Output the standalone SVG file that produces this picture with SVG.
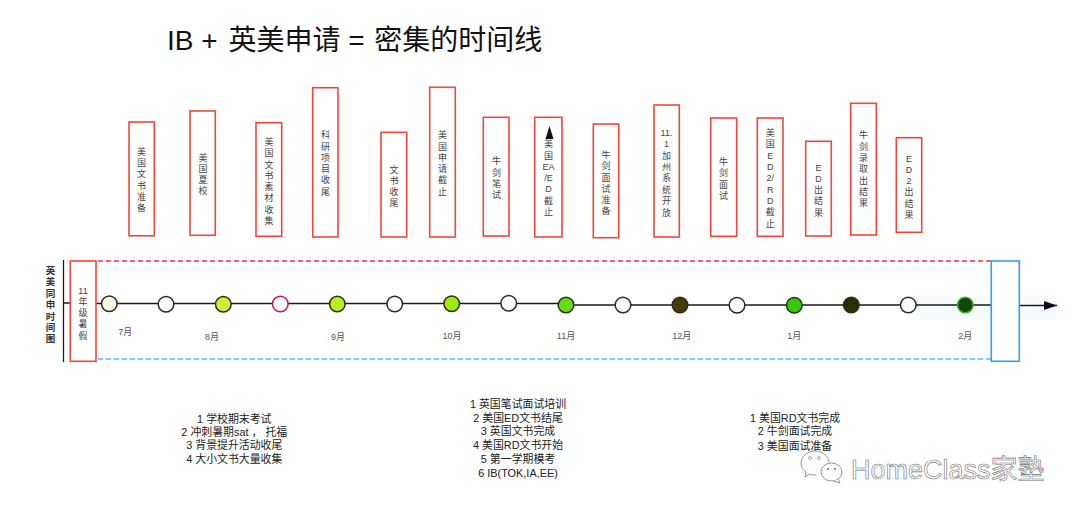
<svg xmlns="http://www.w3.org/2000/svg" width="1080" height="516" viewBox="0 0 1080 516">
<style>
text{font-family:"Liberation Sans","Noto Sans CJK SC",sans-serif;text-anchor:middle}
.box{fill:#fff;stroke:#f0473c;stroke-width:1.6}
.bl{fill:#fff;stroke:#3a9bee;stroke-width:1.6}
.t{font-size:9px;fill:#444}
.m{font-size:9px;fill:#555}
.b{font-size:10.9px;fill:#222}
.n{stroke:#2a2a2a;stroke-width:1.5}
.ln{stroke:#1a1a1a;stroke-width:1.3;fill:none}
</style>
<defs><marker id="arr" markerWidth="14" markerHeight="10" refX="13" refY="4.5" orient="auto" markerUnits="userSpaceOnUse"><path d="M0 0L13 4.500L0 9z" fill="#0a1020"/></marker></defs>
<rect x="917" y="297" width="140" height="22" fill="#f6fcfe"/>
<text id="title" x="167" y="50" style="font-size:28px;fill:#111;text-anchor:start">IB + <tspan dx="3">英美申请</tspan> = <tspan dx="2">密集的时间线</tspan></text>
<g id="connectors">
<path class="ln" d="M63.500 260V362"/>
<path class="ln" d="M63.500 303H70M96 303.500H566M566 305H1019"/>
<path class="ln" d="M1019 305.500H1057" marker-end="url(#arr)"/>
<path d="M98 261H991" stroke="#f2303c" stroke-width="1.300" stroke-dasharray="5 3" fill="none"/>
<path d="M98 359H991" stroke="#55b8fa" stroke-width="1.300" stroke-dasharray="5 3" fill="none"/>
</g>
<text id="axis-label" y="274" style="font-size:9.500px;font-weight:bold;fill:#333"><tspan x="50.500">英</tspan><tspan x="50.500" dy="11.400">美</tspan><tspan x="50.500" dy="11.400">同</tspan><tspan x="50.500" dy="11.400">申</tspan><tspan x="50.500" dy="11.400">时</tspan><tspan x="50.500" dy="11.400">间</tspan><tspan x="50.500" dy="11.400">图</tspan></text>
<g id="box-summer"><rect class="box" x="70.300" y="261" width="25.700" height="100.300"/><text class="t" y="293.500"><tspan x="83">11</tspan><tspan x="83" dy="11.300">年</tspan><tspan x="83" dy="11.300">级</tspan><tspan x="83" dy="11.300">暑</tspan><tspan x="83" dy="11.300">假</tspan></text></g>
<g id="box-end"><rect class="bl" x="991.300" y="261" width="28" height="100.300"/></g>
<g id="e1"><rect class="box" x="129" y="122" width="25.300" height="113.800"/><text class="t" y="154.800"><tspan x="141.500">美</tspan><tspan x="141.500" dy="11.300">国</tspan><tspan x="141.500" dy="11.300">文</tspan><tspan x="141.500" dy="11.300">书</tspan><tspan x="141.500" dy="11.300">准</tspan><tspan x="141.500" dy="11.300">备</tspan></text></g>
<g id="e2"><rect class="box" x="190" y="111" width="25.300" height="124.300"/><text class="t" y="160.500"><tspan x="203">美</tspan><tspan x="203" dy="11.300">国</tspan><tspan x="203" dy="11.300">夏</tspan><tspan x="203" dy="11.300">校</tspan></text></g>
<g id="e3"><rect class="box" x="256" y="122.700" width="25.700" height="113.600"/><text class="t" y="144.900"><tspan x="269">美</tspan><tspan x="269" dy="11.300">国</tspan><tspan x="269" dy="11.300">文</tspan><tspan x="269" dy="11.300">书</tspan><tspan x="269" dy="11.300">素</tspan><tspan x="269" dy="11.300">材</tspan><tspan x="269" dy="11.300">收</tspan><tspan x="269" dy="11.300">集</tspan></text></g>
<g id="e4"><rect class="box" x="312.700" y="87.700" width="25.300" height="149.300"/><text class="t" y="138.200"><tspan x="325.500">科</tspan><tspan x="325.500" dy="11.300">研</tspan><tspan x="325.500" dy="11.300">项</tspan><tspan x="325.500" dy="11.300">目</tspan><tspan x="325.500" dy="11.300">收</tspan><tspan x="325.500" dy="11.300">尾</tspan></text></g>
<g id="e5"><rect class="box" x="381" y="132.300" width="25.700" height="104.700"/><text class="t" y="172.500"><tspan x="394">文</tspan><tspan x="394" dy="11.300">书</tspan><tspan x="394" dy="11.300">收</tspan><tspan x="394" dy="11.300">尾</tspan></text></g>
<g id="e6"><rect class="box" x="429.700" y="87.300" width="25.600" height="149.700"/><text class="t" y="138.200"><tspan x="442.500">美</tspan><tspan x="442.500" dy="11.300">国</tspan><tspan x="442.500" dy="11.300">申</tspan><tspan x="442.500" dy="11.300">请</tspan><tspan x="442.500" dy="11.300">截</tspan><tspan x="442.500" dy="11.300">止</tspan></text></g>
<g id="e7"><rect class="box" x="483.300" y="117.300" width="25.700" height="118.700"/><text class="t" y="164.200"><tspan x="496.500">牛</tspan><tspan x="496.500" dy="11.300">剑</tspan><tspan x="496.500" dy="11.300">笔</tspan><tspan x="496.500" dy="11.300">试</tspan></text></g>
<g id="e8"><rect class="box" x="534.700" y="117.300" width="27.300" height="119.700"/><path d="M549.500 126L553.500 139H545.500z" fill="#111"/><text class="t" y="147.200"><tspan x="548.500">美</tspan><tspan x="548.500" dy="11.300">国</tspan><tspan x="548.500" dy="11.300">EA</tspan><tspan x="548.500" dy="11.300">/E</tspan><tspan x="548.500" dy="11.300">D</tspan><tspan x="548.500" dy="11.300">截</tspan><tspan x="548.500" dy="11.300">止</tspan></text></g>
<g id="e9"><rect class="box" x="593.300" y="124" width="25.400" height="113.700"/><text class="t" y="157.900"><tspan x="606">牛</tspan><tspan x="606" dy="11.300">剑</tspan><tspan x="606" dy="11.300">面</tspan><tspan x="606" dy="11.300">试</tspan><tspan x="606" dy="11.300">准</tspan><tspan x="606" dy="11.300">备</tspan></text></g>
<g id="e10"><rect class="box" x="654" y="105" width="25.300" height="132"/><text class="t" y="135.900"><tspan x="666.500">11.</tspan><tspan x="666.500" dy="11.300">1</tspan><tspan x="666.500" dy="11.400">加</tspan><tspan x="666.500" dy="11.400">州</tspan><tspan x="666.500" dy="11.400">系</tspan><tspan x="666.500" dy="11.400">统</tspan><tspan x="666.500" dy="11.400">开</tspan><tspan x="666.500" dy="11.400">放</tspan></text></g>
<g id="e11"><rect class="box" x="710.700" y="118" width="26" height="118.300"/><text class="t" y="164.900"><tspan x="723.500">牛</tspan><tspan x="723.500" dy="11.300">剑</tspan><tspan x="723.500" dy="11.300">面</tspan><tspan x="723.500" dy="11.300">试</tspan></text></g>
<g id="e12"><rect class="box" x="757.300" y="118" width="25.700" height="118.300"/><text class="t" y="135.900"><tspan x="770.300">美</tspan><tspan x="770.300" dy="11.330">国</tspan><tspan x="770.300" dy="11.330">E</tspan><tspan x="770.300" dy="11.330">D</tspan><tspan x="770.300" dy="11.330">2/</tspan><tspan x="770.300" dy="11.330">R</tspan><tspan x="770.300" dy="11.330">D</tspan><tspan x="770.300" dy="11.330">截</tspan><tspan x="770.300" dy="11.330">止</tspan></text></g>
<g id="e13"><rect class="box" x="805.700" y="141.300" width="25.600" height="94.700"/><text class="t" y="170.500"><tspan x="818.500">E</tspan><tspan x="818.500" dy="11.330">D</tspan><tspan x="818.500" dy="11.330">出</tspan><tspan x="818.500" dy="11.330">结</tspan><tspan x="818.500" dy="11.330">果</tspan></text></g>
<g id="e14"><rect class="box" x="850.700" y="103.300" width="25.600" height="131.700"/><text class="t" y="138.200"><tspan x="863.500">牛</tspan><tspan x="863.500" dy="11.330">剑</tspan><tspan x="863.500" dy="11.330">录</tspan><tspan x="863.500" dy="11.330">取</tspan><tspan x="863.500" dy="11.330">出</tspan><tspan x="863.500" dy="11.330">结</tspan><tspan x="863.500" dy="11.330">果</tspan></text></g>
<g id="e15"><rect class="box" x="896.300" y="137.700" width="25.400" height="94.600"/><text class="t" y="161.500"><tspan x="909">E</tspan><tspan x="909" dy="11.330">D</tspan><tspan x="909" dy="11.330">2</tspan><tspan x="909" dy="11.330">出</tspan><tspan x="909" dy="11.330">结</tspan><tspan x="909" dy="11.330">果</tspan></text></g>
<g id="n1"><circle class="n" cx="109.300" cy="303.700" r="7.800" fill="#fafae2"/></g>
<g id="n2"><circle class="n" cx="166" cy="304.300" r="7.800" fill="#fff"/></g>
<g id="n3"><circle class="n" cx="223.300" cy="304.300" r="7.800" fill="#ccf033"/></g>
<g id="n4"><circle cx="280.300" cy="304" r="7.800" fill="#fff" stroke="#c4106c" stroke-width="1.500"/></g>
<g id="n5"><circle class="n" cx="337.300" cy="304" r="7.800" fill="#b6ee1e"/></g>
<g id="n6"><circle class="n" cx="394.700" cy="304" r="7.800" fill="#fff"/></g>
<g id="n7"><circle class="n" cx="451.700" cy="303.700" r="7.800" fill="#99ee00"/></g>
<g id="n8"><circle class="n" cx="508.700" cy="303.300" r="7.800" fill="#fff"/></g>
<g id="n9"><circle class="n" cx="566" cy="305" r="7.800" fill="#66dd11"/></g>
<g id="n10"><circle class="n" cx="623" cy="305" r="7.800" fill="#fff"/></g>
<g id="n11"><circle class="n" cx="680" cy="305" r="7.800" fill="#443c00"/></g>
<g id="n12"><circle class="n" cx="737" cy="305.300" r="7.800" fill="#fff"/></g>
<g id="n13"><circle class="n" cx="794.300" cy="305.300" r="7.800" fill="#33cc00"/></g>
<g id="n14"><circle class="n" cx="851.300" cy="305" r="7.800" fill="#223300"/></g>
<g id="n15"><circle class="n" cx="908.300" cy="305" r="7.800" fill="#fff"/></g>
<g id="n16"><circle cx="965.300" cy="305" r="7.800" fill="#114411" stroke="#33bb11" stroke-width="1.500"/></g>
<g id="months">
<text class="m" x="125.300" y="335.200">7月</text><text class="m" x="212" y="339.500">8月</text><text class="m" x="338" y="340">9月</text><text class="m" x="452" y="339.200">10月</text><text class="m" x="566" y="339">11月</text><text class="m" x="681.700" y="339">12月</text><text class="m" x="794.300" y="339">1月</text><text class="m" x="965.300" y="339">2月</text>
</g>
<g id="notes">
<text class="b" x="234.300" y="422.500">1 学校期末考试</text><text class="b" x="234.300" y="435.500">2 冲刺暑期sat ，  托福</text><text class="b" x="234.300" y="449">3 背景提升活动收尾</text><text class="b" x="234.300" y="462.500">4 大小文书大量收集</text>
<text class="b" x="518" y="407.500">1 英国笔试面试培训</text><text class="b" x="518" y="421.800">2 美国ED文书结尾</text><text class="b" x="518" y="435.300">3 英国文书完成</text><text class="b" x="518" y="449.300">4 美国RD文书开始</text><text class="b" x="518" y="462.700">5 第一学期模考</text><text class="b" x="518" y="476.700">6 IB(TOK,IA,EE)</text>
<text class="b" x="795" y="422">1 美国RD文书完成</text><text class="b" x="795" y="435.300">2 牛剑面试完成</text><text class="b" x="795" y="449.500">3 美国面试准备</text>
</g>
<g id="watermark">
<path d="M815 451c-8 0-14 6-14 12c0 4 2 7 5 9l-1 5l5-3c2 1 4 1 6 1" fill="#fff" stroke="#777" stroke-width=".8"/>
<path d="M815 451c7 0 13 4 14 11" fill="none" stroke="#777" stroke-width=".8"/>
<ellipse cx="831.500" cy="472" rx="10.500" ry="9" fill="#fff" stroke="#777" stroke-width=".8"/>
<path d="M838 479l2 4l-6-2" fill="#fff" stroke="#777" stroke-width=".8"/>
<circle cx="810" cy="458" r="1.500" fill="#fff" stroke="#777" stroke-width=".6"/><circle cx="819" cy="458" r="1.500" fill="#fff" stroke="#777" stroke-width=".6"/><circle cx="828" cy="469" r="1.100" fill="#777"/><circle cx="835" cy="469" r="1.100" fill="#777"/>
<text x="851" y="479" style="text-anchor:start;font-size:27px;fill:#fff;stroke:#707070;stroke-width:.6">HomeClass家塾</text>
</g>
</svg>
